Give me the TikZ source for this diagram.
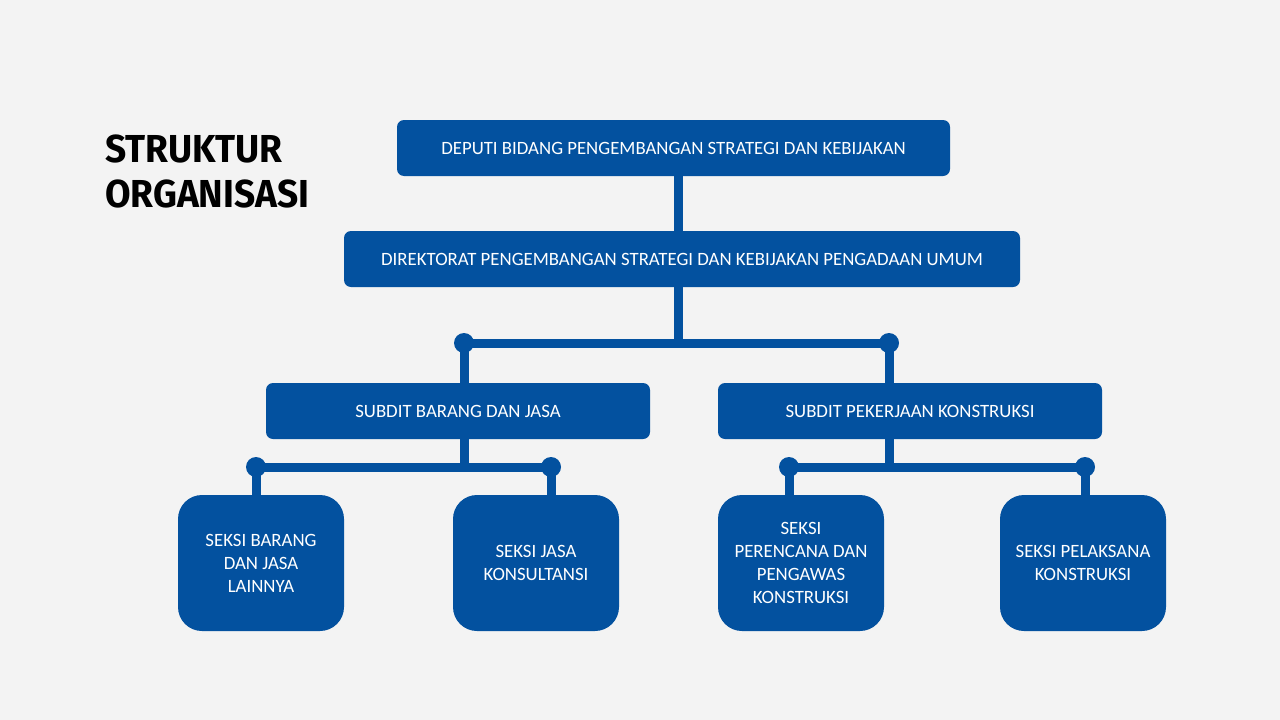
\documentclass[tikz,border=0pt]{standalone}
\usepackage{fontspec}
\setmainfont{Carlito}
\newfontfamily\titlefont[FakeStretch=0.95]{Fira Sans}
\usetikzlibrary{positioning}
\definecolor{orgblue}{HTML}{03519F}
\definecolor{slidebg}{HTML}{F3F3F3}

\begin{document}
\begin{tikzpicture}[x=1pt, y=-1pt,
  box/.style={fill=orgblue, rounded corners=7pt, text=white, inner sep=0pt,
    font=\fontsize{18.8}{23}\selectfont, minimum height=56pt},
  seksi/.style={box, rounded corners=24pt, minimum width=166pt, minimum height=136pt, align=center},
  link/.style={orgblue, line width=9pt},
  dot/.style={circle, fill=orgblue, minimum size=20pt, inner sep=0pt}]
  \fill[slidebg] (0,0) rectangle (1280,720);
  \useasboundingbox (0,0) rectangle (1280,720);

  % title
  \node[anchor=north west, align=left, inner sep=0pt,
    font=\titlefont\bfseries\fontsize{39}{45}\selectfont] (title) at (105,135) {STRUKTUR\\ORGANISASI};

  % top levels
  \node[box, minimum width=553pt] (deputi) at (673.5,148) {DEPUTI BIDANG PENGEMBANGAN STRATEGI DAN KEBIJAKAN};
  \node[box, minimum width=676pt] (direktorat) at (682,259) {DIREKTORAT PENGEMBANGAN STRATEGI DAN KEBIJAKAN PENGADAAN UMUM};

  % subdit
  \node[box, minimum width=384pt] (subbj) at (458,411) {SUBDIT BARANG DAN JASA};
  \node[box, minimum width=384pt] (subpk) at (910,411) {SUBDIT PEKERJAAN KONSTRUKSI};

  % seksi
  \node[seksi] (sbj) at (261,563) {SEKSI BARANG\\DAN JASA\\LAINNYA};
  \node[seksi] (sjk) at (536,563) {SEKSI JASA\\KONSULTANSI};
  \node[seksi] (spp) at (801,563) {SEKSI\\PERENCANA DAN\\PENGAWAS\\KONSTRUKSI};
  \node[seksi] (spk) at (1083,563) {SEKSI PELAKSANA\\KONSTRUKSI};

  % junctions
  \coordinate (trunk) at (678,343);
  \coordinate (barl) at (464,343);
  \coordinate (barr) at (889,343);
  \coordinate (bjm) at (464,467);
  \coordinate (bjl) at (256,467);
  \coordinate (bjr) at (551,467);
  \coordinate (pkm) at (889,467);
  \coordinate (pkl) at (789,467);
  \coordinate (pkr) at (1085,467);

  % connectors
  \draw[link] (deputi.south -| trunk) -- (direktorat.north -| trunk);
  \draw[link] (direktorat.south -| trunk) -- (trunk);
  \draw[link] (barl) -- (barr);
  \draw[link] (barl) -- (subbj.north -| barl);
  \draw[link] (barr) -- (subpk.north -| barr);
  \draw[link] (subbj.south -| bjm) -- (bjm);
  \draw[link] (bjl) -- (bjr);
  \draw[link] (bjl) -- (sbj.north -| bjl);
  \draw[link] (bjr) -- (sjk.north -| bjr);
  \draw[link] (subpk.south -| pkm) -- (pkm);
  \draw[link] (pkl) -- (pkr);
  \draw[link] (pkl) -- (spp.north -| pkl);
  \draw[link] (pkr) -- (spk.north -| pkr);

  \node[dot] (dbarl) at (barl) {};
  \node[dot] (dbarr) at (barr) {};
  \node[dot] (dbjl) at (bjl) {};
  \node[dot] (dbjr) at (bjr) {};
  \node[dot] (dpkl) at (pkl) {};
  \node[dot] (dpkr) at (pkr) {};
\end{tikzpicture}
\end{document}
